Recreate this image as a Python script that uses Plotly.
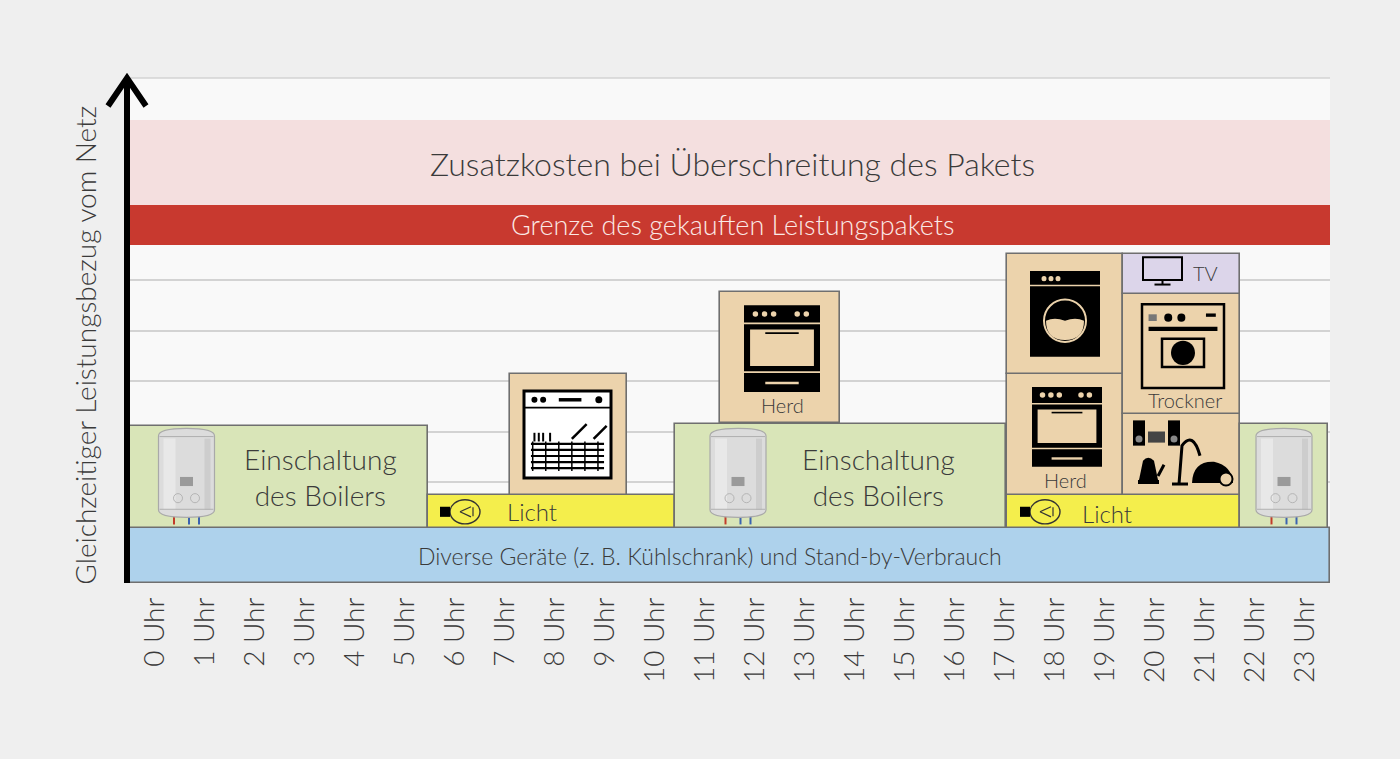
"""Tagesverlauf Leistungsbezug vom Netz - Leistungspaket-Infografik."""
import plotly.graph_objects as go

# ---------------------------------------------------------------------------
# Data
# ---------------------------------------------------------------------------
HOURS = list(range(24))
HOUR_LABELS = [f"{h} Uhr" for h in HOURS]

# Verbraucher-Blöcke: Start-/Endstunde und Leistungsniveau (unten / oben)
BLOCK_NAMES = ["Grundlast", "Boiler Nacht", "Licht Morgen", "Geschirrspüler",
               "Boiler Mittag", "Herd Mittag", "Licht Abend", "Herd Abend",
               "Waschmaschine", "Kleingeräte", "Trockner", "TV", "Boiler Spät"]
BLOCK_START = [0, 0, 5.96, 7.6, 10.9, 11.8, 17.54, 17.54, 17.54, 19.86, 19.86, 19.86, 22.2]
BLOCK_END = [24, 5.96, 10.9, 9.94, 17.52, 14.2, 22.2, 19.86, 19.86, 22.2, 22.2, 22.2, 23.96]
BLOCK_BASE = [0, 1.09, 1.09, 1.74, 1.09, 3.17, 1.09, 1.74, 4.14, 1.74, 3.35, 5.72, 1.09]
BLOCK_TOP = [1.09, 3.11, 1.74, 4.14, 3.15, 5.76, 1.74, 4.14, 6.51, 3.35, 5.72, 6.51, 3.15]
BLOCK_KIND = ["basis", "boiler", "licht", "geraet", "boiler", "geraet", "licht",
              "geraet", "geraet", "geraet", "geraet", "tv", "boiler"]

# Leistungspaket: Grenze und Bereich mit Zusatzkosten
LIMIT_BAND = [6.69, 7.49]
EXTRA_BAND = [7.49, 9.17]

# Colours
_BG = "#efefef"
_PLOT = "#f9f9f9"
_GRID = "#d3d3d3"
_TEXT = "#3a3a3a"
_EDGE = "#6f6f6f"
_KIND_COLOR = {
    "basis": "#aed2ec",
    "boiler": "#d9e5b8",
    "licht": "#f4ee4c",
    "geraet": "#ecd3ac",
    "tv": "#dcd5ea",
}
_RED = "#c8392f"
_PINK = "#f4dfdf"
_TAN = "#ecd3ac"

FONT = "Lato"

fig = go.Figure()

# Bänder für Grenze / Zusatzkosten
fig.add_trace(go.Bar(
    x=[12, 12], width=[24, 24],
    base=[EXTRA_BAND[0], LIMIT_BAND[0]],
    y=[EXTRA_BAND[1] - EXTRA_BAND[0], LIMIT_BAND[1] - LIMIT_BAND[0]],
    marker=dict(color=[_PINK, _RED], line=dict(width=0)),
    hoverinfo="skip", showlegend=False,
))

# Verbraucherblöcke
fig.add_trace(go.Bar(
    x=[(a + b) / 2 for a, b in zip(BLOCK_START, BLOCK_END)],
    width=[b - a for a, b in zip(BLOCK_START, BLOCK_END)],
    base=BLOCK_BASE,
    y=[t - b for t, b in zip(BLOCK_TOP, BLOCK_BASE)],
    marker=dict(color=[_KIND_COLOR[k] for k in BLOCK_KIND],
                line=dict(color=_EDGE, width=1.6)),
    hovertext=BLOCK_NAMES, hoverinfo="text", showlegend=False,
))


# ---------------------------------------------------------------------------
# Icons (einfache Nachbildungen aus Shapes)
# ---------------------------------------------------------------------------
def _rect(x0, y0, x1, y1, fill, line="black", lw=0):
    fig.add_shape(type="rect", x0=x0, y0=y0, x1=x1, y1=y1, fillcolor=fill,
                  line=dict(color=line, width=lw), layer="above")


def _circle(xc, yc, r, fill, line="black", lw=0, ry=None):
    ry = r if ry is None else ry
    fig.add_shape(type="circle", x0=xc - r, y0=yc - ry, x1=xc + r, y1=yc + ry,
                  fillcolor=fill, line=dict(color=line, width=lw), layer="above")


def _line(x0, y0, x1, y1, color="black", lw=2):
    fig.add_shape(type="line", x0=x0, y0=y0, x1=x1, y1=y1,
                  line=dict(color=color, width=lw), layer="above")


def _path(d, fill="rgba(0,0,0,0)", line="black", lw=0):
    fig.add_shape(type="path", path=d, fillcolor=fill,
                  line=dict(color=line, width=lw), layer="above")


def boiler(xc, yb):
    w, h = 1.12, 1.76
    x0, x1 = xc - w / 2, xc + w / 2
    y0, y1 = yb, yb + h
    # pipes
    _line(xc - 0.25, y0 + 0.02, xc - 0.25, y0 - 0.14, "#c23b2a", 2)
    _line(xc + 0.05, y0 + 0.02, xc + 0.05, y0 - 0.14, "#3b63b0", 2)
    _line(xc + 0.25, y0 + 0.02, xc + 0.25, y0 - 0.14, "#3b63b0", 2)
    d = (f"M {x0},{y0 + 0.15} L {x0},{y1 - 0.15} Q {x0},{y1} {xc},{y1} "
         f"Q {x1},{y1} {x1},{y1 - 0.15} L {x1},{y0 + 0.15} "
         f"Q {x1},{y0} {xc},{y0} Q {x0},{y0} {x0},{y0 + 0.15} Z")
    _path(d, fill="#dcdcdc", line="#a9a9a9", lw=1.2)
    _rect(x0 + 0.1, y0 + 0.15, x0 + 0.34, y1 - 0.2, "#e8e8e8")
    _rect(x1 - 0.2, y0 + 0.15, x1 - 0.08, y1 - 0.2, "#cdcdcd")
    _line(x0 + 0.02, y1 - 0.16, x1 - 0.02, y1 - 0.16, "#b0b0b0", 1)
    _line(x0 + 0.02, y0 + 0.16, x1 - 0.02, y0 + 0.16, "#b0b0b0", 1)
    _rect(xc - 0.13, y0 + 0.62, xc + 0.13, y0 + 0.8, "#9a9a9a")
    _circle(xc - 0.17, y0 + 0.38, 0.09, "rgba(0,0,0,0)", "#b5b5b5", 1)
    _circle(xc + 0.17, y0 + 0.38, 0.09, "rgba(0,0,0,0)", "#b5b5b5", 1)


def stove(x0, y0, x1, y1):
    w, h = x1 - x0, y1 - y0
    _rect(x0, y0, x1, y1, "black")
    for f in (0.15, 0.27, 0.39, 0.7, 0.82):
        _circle(x0 + f * w, y1 - 0.1 * h, 0.055, _TAN)
    _rect(x0, y1 - 0.22 * h, x1, y1 - 0.2 * h, _TAN)
    _rect(x0 + 0.08 * w, y0 + 0.3 * h, x1 - 0.08 * w, y1 - 0.28 * h, _TAN)
    _rect(x0 + 0.28 * w, y1 - 0.33 * h, x1 - 0.28 * w, y1 - 0.31 * h, "black")
    _rect(x0, y0 + 0.22 * h, x1, y0 + 0.24 * h, _TAN)
    _rect(x0 + 0.28 * w, y0 + 0.09 * h, x1 - 0.28 * w, y0 + 0.12 * h, _TAN)


def washer(x0, y0, x1, y1):
    w, h = x1 - x0, y1 - y0
    xc, yc = (x0 + x1) / 2, y0 + 0.42 * h
    _rect(x0, y0, x1, y1, "black")
    _rect(x0, y1 - 0.18 * h, x1, y1 - 0.16 * h, _TAN)
    for f in (0.2, 0.3, 0.4):
        _circle(x0 + f * w, y1 - 0.09 * h, 0.05, _TAN)
    r = 0.42
    _circle(xc, yc, r, "black", _TAN, 2)
    d = (f"M {xc - r + 0.04},{yc} Q {xc - r / 2},{yc + 0.08} {xc},{yc} "
         f"Q {xc + r / 2},{yc + 0.08} {xc + r - 0.04},{yc} "
         f"Q {xc + r - 0.04},{yc - r + 0.04} {xc},{yc - r + 0.04} "
         f"Q {xc - r + 0.04},{yc - r + 0.04} {xc - r + 0.04},{yc} Z")
    _path(d, fill=_TAN)


def dryer(x0, y0, x1, y1):
    w, h = x1 - x0, y1 - y0
    xc, yc = (x0 + x1) / 2, y0 + 0.42 * h
    _rect(x0, y0, x1, y1, "rgba(0,0,0,0)", "black", 2.5)
    _rect(x0 + 0.08 * w, y1 - 0.32 * h, x1 - 0.08 * w, y1 - 0.27 * h, "black")
    _rect(x0 + 0.08 * w, y1 - 0.2 * h, x0 + 0.18 * w, y1 - 0.12 * h, "#777")
    _circle(x0 + 0.32 * w, y1 - 0.16 * h, 0.08, "black")
    _circle(x0 + 0.48 * w, y1 - 0.16 * h, 0.08, "black")
    _rect(x1 - 0.22 * w, y1 - 0.15 * h, x1 - 0.1 * w, y1 - 0.11 * h, "black")
    _rect(xc - 0.42, yc - 0.28, xc + 0.42, yc + 0.28, "rgba(0,0,0,0)", "black", 2.5)
    _circle(xc, yc, 0.24, "black")


def dishwasher(x0, y0, x1, y1):
    w, h = x1 - x0, y1 - y0
    _rect(x0, y0, x1, y1, "white", "black", 3)
    _rect(x0, y1 - 0.2 * h, x1, y1 - 0.18 * h, "black")
    _circle(x0 + 0.12 * w, y1 - 0.1 * h, 0.06, "black")
    _circle(x0 + 0.22 * w, y1 - 0.1 * h, 0.06, "black")
    _rect(x0 + 0.4 * w, y1 - 0.12 * h, x0 + 0.66 * w, y1 - 0.08 * h, "black")
    _circle(x0 + 0.86 * w, y1 - 0.1 * h, 0.07, "black")
    for f in (0.1, 0.17, 0.24, 0.31, 0.38):
        _rect(x0 + 0.08 * w, y0 + f * h, x1 - 0.08 * w, y0 + f * h + 0.025 * h, "black")
    for g in (0.1, 0.25, 0.4, 0.55, 0.7, 0.85):
        _line(x0 + g * w, y0 + 0.08 * h, x0 + g * w, y0 + 0.42 * h, "black", 1.5)
    _line(x0 + 0.55 * w, y0 + 0.45 * h, x0 + 0.72 * w, y0 + 0.62 * h, "black", 2.5)
    _line(x0 + 0.8 * w, y0 + 0.45 * h, x0 + 0.95 * w, y0 + 0.6 * h, "black", 2.5)
    for g in (0.12, 0.17, 0.22, 0.3):
        _line(x0 + g * w, y0 + 0.42 * h, x0 + g * w, y0 + 0.52 * h, "black", 2)


def tv(x0, y0, x1, y1):
    xc = (x0 + x1) / 2
    _rect(x0, y0 + 0.1, x1, y1, "rgba(0,0,0,0)", "black", 2)
    _line(xc, y0 + 0.1, xc, y0 + 0.02, "black", 2)
    _line(xc - 0.16, y0 + 0.01, xc + 0.16, y0 + 0.01, "black", 2)


def small_devices(x0, y0):
    # Stereoanlage
    _rect(x0, y0 + 0.9, x0 + 0.24, y0 + 1.4, "black")
    _rect(x0 + 0.7, y0 + 0.9, x0 + 0.94, y0 + 1.4, "black")
    _rect(x0 + 0.3, y0 + 0.96, x0 + 0.64, y0 + 1.18, "#444")
    _circle(x0 + 0.12, y0 + 1.03, 0.07, "#888")
    _circle(x0 + 0.82, y0 + 1.03, 0.07, "#888")
    # Wasserkocher
    d = (f"M {x0 + 0.12},{y0 + 0.22} L {x0 + 0.2},{y0 + 0.6} Q {x0 + 0.3},{y0 + 0.72} "
         f"{x0 + 0.42},{y0 + 0.6} L {x0 + 0.5},{y0 + 0.22} Z")
    _path(d, fill="black")
    _rect(x0 + 0.1, y0 + 0.14, x0 + 0.52, y0 + 0.22, "black")
    _line(x0 + 0.5, y0 + 0.3, x0 + 0.62, y0 + 0.52, "black", 3)
    # Staubsauger
    d = (f"M {x0 + 0.92},{y0 + 0.14} L {x0 + 0.98},{y0 + 0.9} "
         f"Q {x0 + 1.2},{y0 + 1.2} {x0 + 1.34},{y0 + 0.7}")
    _path(d, line="black", lw=3)
    _line(x0 + 0.78, y0 + 0.14, x0 + 1.1, y0 + 0.14, "black", 3)
    d = (f"M {x0 + 1.18},{y0 + 0.16} Q {x0 + 1.2},{y0 + 0.6} {x0 + 1.62},{y0 + 0.58} "
         f"Q {x0 + 1.98},{y0 + 0.5} {x0 + 2.0},{y0 + 0.16} Z")
    _path(d, fill="black")
    _circle(x0 + 1.86, y0 + 0.24, 0.13, _TAN, "black", 2)


def bulb(xc, yc):
    _circle(xc, yc, 0.3, "rgba(0,0,0,0)", "#333", 1.4, ry=0.24)
    _rect(xc - 0.5, yc - 0.1, xc - 0.3, yc + 0.1, "black")
    _line(xc - 0.1, yc, xc + 0.12, yc + 0.1, "#333", 1.2)
    _line(xc - 0.1, yc, xc + 0.12, yc - 0.1, "#333", 1.2)
    _line(xc + 0.16, yc - 0.09, xc + 0.16, yc + 0.09, "#333", 1.2)


for xc in (1.13, 12.16, 23.08):
    boiler(xc, 1.3)
dishwasher(7.88, 2.08, 9.62, 3.8)
stove(12.28, 3.78, 13.8, 5.5)
stove(18.04, 2.3, 19.44, 3.88)
washer(18.0, 4.48, 19.4, 6.18)
dryer(20.24, 3.86, 21.88, 5.52)
tv(20.26, 5.9, 21.04, 6.45)
small_devices(20.06, 1.82)
bulb(6.7, 1.41)
bulb(18.3, 1.41)


# ---------------------------------------------------------------------------
# Texte
# ---------------------------------------------------------------------------
def _label(x, y, text, size, color=_TEXT):
    fig.add_annotation(x=x, y=y, text=text, showarrow=False,
                       font=dict(family=FONT, size=size, color=color, weight=300))


_label(12.04, 8.3, "Zusatzkosten bei Überschreitung des Pakets", 32)
_label(12.04, 7.1, "Grenze des gekauften Leistungspakets", 27, "#fbe9e6")
_label(11.6, 0.53, "Diverse Geräte (z. B. Kühlschrank) und Stand-by-Verbrauch", 23)
_label(3.8, 2.1, "Einschaltung<br>des Boilers", 28)
_label(14.96, 2.1, "Einschaltung<br>des Boilers", 28)
_label(8.04, 1.41, "Licht", 24)
_label(19.54, 1.38, "Licht", 24)
_label(13.04, 3.53, "Herd", 20)
_label(18.7, 2.03, "Herd", 20)
_label(21.1, 3.63, "Trockner", 20)
_label(21.5, 6.13, "TV", 20)

# y-Achse als Pfeil
_AX_X = -3 / 1200
fig.add_shape(type="line", xref="paper", yref="paper", x0=_AX_X, x1=_AX_X,
              y0=0, y1=1.0, line=dict(color="black", width=6))
fig.add_shape(type="path", xref="paper", yref="paper",
              path=(f"M {_AX_X - 19 / 1200},{0.998 - 27 / 505} L {_AX_X},{1.0} "
                    f"L {_AX_X + 19 / 1200},{0.998 - 27 / 505}"),
              line=dict(color="black", width=6))
fig.add_annotation(xref="paper", yref="paper", x=-45 / 1200, y=0.47,
                   xanchor="center", yanchor="middle",
                   text="Gleichzeitiger Leistungsbezug vom Netz", textangle=-90,
                   showarrow=False,
                   font=dict(family=FONT, size=28, color=_TEXT, weight=300))
# obere Rahmenlinie
fig.add_shape(type="line", xref="paper", yref="paper", x0=0, x1=1, y0=1, y1=1,
              line=dict(color=_GRID, width=1.5), layer="below")

fig.update_layout(
    width=1400, height=759,
    paper_bgcolor=_BG, plot_bgcolor=_PLOT,
    margin=dict(l=130, r=70, t=78, b=176),
    barmode="overlay", bargap=0,
    showlegend=False,
    font=dict(family=FONT, color=_TEXT),
    xaxis=dict(range=[0, 24], tickvals=[h + 0.5 for h in HOURS], ticktext=HOUR_LABELS,
               tickangle=-90, showgrid=False, zeroline=False, showline=False,
               ticks="", ticklabelstandoff=8,
               tickfont=dict(family=FONT, size=28, color=_TEXT, weight=300)),
    yaxis=dict(range=[0, 10], dtick=1, showgrid=True, gridcolor=_GRID, gridwidth=1.5,
               showticklabels=False, zeroline=False, showline=False, ticks=""),
)

fig.write_html("out.html", config={"displayModeBar": False},
               post_script="document.body.style.margin='0';"
                           "document.body.style.background='#efefef';")
